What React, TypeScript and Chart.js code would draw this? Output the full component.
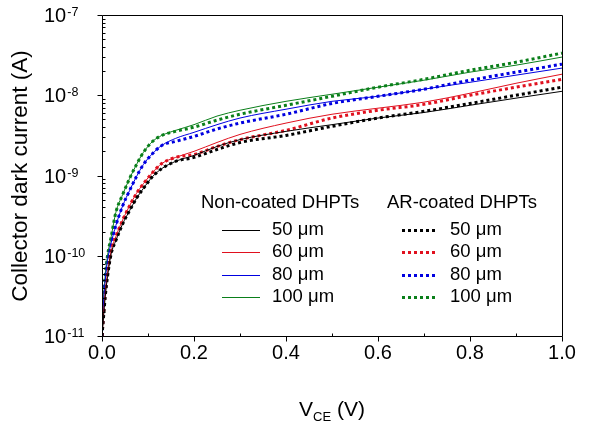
import React, { useEffect, useRef } from 'react';
import { Chart, registerables } from 'chart.js';
Chart.register(...registerables);

const FONT = '"Liberation Sans", Arial, Helvetica, sans-serif';

// V_CE sample points (V)
const vce = [0, 0.003, 0.007, 0.012, 0.02, 0.03, 0.045, 0.06, 0.075, 0.09, 0.11, 0.13, 0.16, 0.2, 0.25, 0.3, 0.4, 0.5, 0.6, 0.7, 0.8, 0.9, 1.0];

// Non-coated DHPTs (solid)
const non50 = [1e-11, 1.63e-11, 3.07e-11, 5.5e-11, 1.06e-10, 1.54e-10, 2.5e-10, 3.65e-10, 5.2e-10, 6.9e-10, 9.7e-10, 1.22e-9, 1.5e-9, 1.78e-9, 2.3e-9, 2.8e-9, 3.55e-9, 4.3e-9, 5.2e-9, 6.1e-9, 7.5e-9, 9.2e-9, 1.12e-8];
const non60 = [1e-11, 1.78e-11, 3.45e-11, 6.1e-11, 1.15e-10, 1.73e-10, 2.8e-10, 4.2e-10, 6.0e-10, 7.9e-10, 1.09e-9, 1.41e-9, 1.68e-9, 2.0e-9, 2.58e-9, 3.25e-9, 4.5e-9, 5.8e-9, 6.9e-9, 8.2e-9, 1.06e-8, 1.41e-8, 1.83e-8];
const non80 = [1e-11, 2.37e-11, 4.9e-11, 8.7e-11, 1.45e-10, 2.37e-10, 4.2e-10, 6.5e-10, 9.7e-10, 1.37e-9, 1.88e-9, 2.37e-9, 2.9e-9, 3.45e-9, 4.3e-9, 5.2e-9, 6.7e-9, 8.4e-9, 9.7e-9, 1.19e-8, 1.45e-8, 1.78e-8, 2.18e-8];
const non100 = [1e-11, 2.74e-11, 5.6e-11, 1.0e-10, 1.73e-10, 3.45e-10, 5.8e-10, 9.2e-10, 1.37e-9, 1.94e-9, 2.66e-9, 3.16e-9, 3.65e-9, 4.3e-9, 5.5e-9, 6.5e-9, 8.4e-9, 1.03e-8, 1.26e-8, 1.54e-8, 1.94e-8, 2.37e-8, 2.99e-8];

// AR-coated DHPTs (dotted)
const ar50 = [1e-11, 1.63e-11, 3.07e-11, 5.5e-11, 1.06e-10, 1.54e-10, 2.5e-10, 3.65e-10, 5.2e-10, 6.9e-10, 9.7e-10, 1.22e-9, 1.5e-9, 1.68e-9, 2.11e-9, 2.58e-9, 3.16e-9, 4.1e-9, 5.2e-9, 6.3e-9, 7.9e-9, 1.0e-8, 1.26e-8];
const ar60 = [1e-11, 1.78e-11, 3.45e-11, 6.1e-11, 1.15e-10, 1.73e-10, 2.8e-10, 4.2e-10, 6.0e-10, 7.9e-10, 1.09e-9, 1.41e-9, 1.68e-9, 1.83e-9, 2.3e-9, 2.8e-9, 3.65e-9, 5.2e-9, 6.5e-9, 7.7e-9, 1.0e-8, 1.26e-8, 1.58e-8];
const ar80 = [1e-11, 2.37e-11, 4.9e-11, 8.7e-11, 1.45e-10, 2.37e-10, 4.2e-10, 6.5e-10, 9.7e-10, 1.37e-9, 1.88e-9, 2.37e-9, 2.66e-9, 3.07e-9, 3.8e-9, 4.5e-9, 5.8e-9, 7.9e-9, 9.7e-9, 1.19e-8, 1.54e-8, 1.94e-8, 2.44e-8];
const ar100 = [1e-11, 2.74e-11, 5.6e-11, 1.0e-10, 1.73e-10, 3.45e-10, 5.8e-10, 9.2e-10, 1.37e-9, 1.94e-9, 2.66e-9, 3.16e-9, 3.55e-9, 4.0e-9, 4.9e-9, 5.8e-9, 7.5e-9, 9.7e-9, 1.26e-8, 1.58e-8, 2.05e-8, 2.58e-8, 3.35e-8];

const widthsLabels = ['50', '60', '80', '100'];
const colors = ['#000000', '#e0101e', '#0000e0', '#0a7f1a'];
const nonSeries = [non50, non60, non80, non100];
const arSeries = [ar50, ar60, ar80, ar100];

const xTicks = [0, 0.2, 0.4, 0.6, 0.8, 1.0];
const xMinorTicks = [0.1, 0.3, 0.5, 0.7, 0.9];
const yDecades = [-11, -10, -9, -8, -7];
const yTitle = 'Collector dark current (A)';
const headerNon = 'Non-coated DHPTs';
const headerAr = 'AR-coated DHPTs';

function pts(ys: number[]) {
  return vce.map((x, i) => ({ x, y: ys[i] }));
}

export default function App() {
  const ref = useRef<HTMLCanvasElement>(null);
  useEffect(() => {
    const canvas = ref.current;
    if (!canvas) return;
    const decor = {
      id: 'decor',
      afterDraw(chart: any) {
        const ctx = chart.ctx as CanvasRenderingContext2D;
        const a = chart.chartArea;
        const xs = chart.scales.x;
        const ys = chart.scales.y;
        const L = Math.round(a.left) + 0.5;
        const R = Math.round(a.right) + 0.5;
        const T = Math.round(a.top) + 0.5;
        const B = Math.round(a.bottom) + 0.5;
        const line = (x1: number, y1: number, x2: number, y2: number) => {
          ctx.beginPath();
          ctx.moveTo(x1, y1);
          ctx.lineTo(x2, y2);
          ctx.stroke();
        };
        ctx.save();
        ctx.strokeStyle = '#000';
        ctx.lineWidth = 1;
        ctx.setLineDash([]);
        ctx.beginPath();
        ctx.rect(L, T, R - L, B - T);
        ctx.stroke();
        // y ticks
        yDecades.forEach((e) => {
          const y = Math.round(ys.getPixelForValue(Math.pow(10, e))) + 0.5;
          line(L - 5, y, L, y);
        });
        for (let e = -11; e < -7; e++) {
          for (let m = 2; m <= 9; m++) {
            const y = Math.round(ys.getPixelForValue(m * Math.pow(10, e))) + 0.5;
            line(L, y, L + 3, y);
          }
        }
        // x ticks
        xTicks.forEach((v) => {
          const x = Math.round(xs.getPixelForValue(v)) + 0.5;
          line(x, B, x, B + 5);
        });
        xMinorTicks.forEach((v) => {
          const x = Math.round(xs.getPixelForValue(v)) + 0.5;
          line(x, B, x, B - 3);
        });
        ctx.fillStyle = '#000';
        // x tick labels
        ctx.font = `20px ${FONT}`;
        ctx.textAlign = 'center';
        ctx.textBaseline = 'alphabetic';
        xTicks.forEach((v) => {
          const x = xs.getPixelForValue(v);
          ctx.fillText(v.toFixed(1), x, 359);
        });
        // y tick labels
        yDecades.forEach((e) => {
          const y = ys.getPixelForValue(Math.pow(10, e));
          ctx.textAlign = 'left';
          ctx.font = `20px ${FONT}`;
          ctx.fillText('10', 44, y + 7);
          const w = ctx.measureText('10').width;
          ctx.font = `12.5px ${FONT}`;
          ctx.fillText(String(e), 44 + w + 1, y + 1);
        });
        // y title
        ctx.save();
        ctx.translate(21, 176);
        ctx.rotate(-Math.PI / 2);
        ctx.font = `22.5px ${FONT}`;
        ctx.textAlign = 'center';
        ctx.textBaseline = 'middle';
        ctx.fillText(yTitle, 0, 0);
        ctx.restore();
        // x title: V_CE (V)
        ctx.textAlign = 'left';
        ctx.font = `21px ${FONT}`;
        const wV = ctx.measureText('V').width;
        const wRest = ctx.measureText(' (V)').width;
        ctx.font = `13px ${FONT}`;
        const wSub = ctx.measureText('CE').width;
        const start = 332 - (wV + wSub + wRest) / 2;
        ctx.font = `21px ${FONT}`;
        ctx.fillText('V', start, 416);
        ctx.font = `13px ${FONT}`;
        ctx.fillText('CE', start + wV, 421);
        ctx.font = `21px ${FONT}`;
        ctx.fillText(' (V)', start + wV + wSub, 416);
        // legend
        ctx.font = `18.5px ${FONT}`;
        ctx.textBaseline = 'middle';
        ctx.fillText(headerNon, 201, 203);
        ctx.fillText(headerAr, 387, 203);
        const rowY = [230, 252, 275, 297];
        widthsLabels.forEach((lab, i) => {
          const y = rowY[i] + 0.5;
          ctx.strokeStyle = colors[i];
          ctx.lineWidth = 1;
          ctx.setLineDash([]);
          line(222, y, 260, y);
          ctx.lineWidth = 3;
          ctx.setLineDash([3, 3]);
          line(402, y, 438, y);
          ctx.setLineDash([]);
          ctx.fillStyle = '#000';
          ctx.fillText(`${lab} \u03bcm`, 272, rowY[i]);
          ctx.fillText(`${lab} \u03bcm`, 450, rowY[i]);
        });
        ctx.restore();
      },
    };
    const datasets: any[] = [];
    nonSeries.forEach((s, i) => {
      datasets.push({
        label: `Non-coated ${widthsLabels[i]} \u03bcm`,
        data: pts(s),
        borderColor: colors[i],
        borderWidth: 1,
        pointRadius: 0,
        fill: false,
        cubicInterpolationMode: 'monotone',
      });
    });
    arSeries.forEach((s, i) => {
      datasets.push({
        label: `AR-coated ${widthsLabels[i]} \u03bcm`,
        data: pts(s),
        borderColor: colors[i],
        borderWidth: 3,
        borderDash: [3, 3],
        borderCapStyle: 'butt',
        pointRadius: 0,
        fill: false,
        cubicInterpolationMode: 'monotone',
      });
    });
    const chart = new Chart(canvas, {
      type: 'line',
      data: { datasets },
      options: {
        responsive: false,
        animation: false,
        devicePixelRatio: 1,
        layout: { padding: { top: 15, right: 45, left: 0, bottom: 0 } },
        plugins: { legend: { display: false }, tooltip: { enabled: false } },
        scales: {
          x: {
            type: 'linear',
            min: 0,
            max: 1,
            grid: { display: false },
            border: { display: false },
            ticks: { display: false },
            afterFit: (s: any) => { s.height = 97; },
          },
          y: {
            type: 'logarithmic',
            min: 1e-11,
            max: 1e-7,
            grid: { display: false },
            border: { display: false },
            ticks: { display: false },
            afterFit: (s: any) => { s.width = 102; },
          },
        },
      },
      plugins: [decor],
    });
    return () => chart.destroy();
  }, []);
  return (
    <div style={{ position: 'fixed', left: 0, top: 0, width: 607, height: 433, background: '#fff' }}>
      <canvas ref={ref} width={607} height={433} style={{ display: 'block', width: 607, height: 433 }} />
    </div>
  );
}
